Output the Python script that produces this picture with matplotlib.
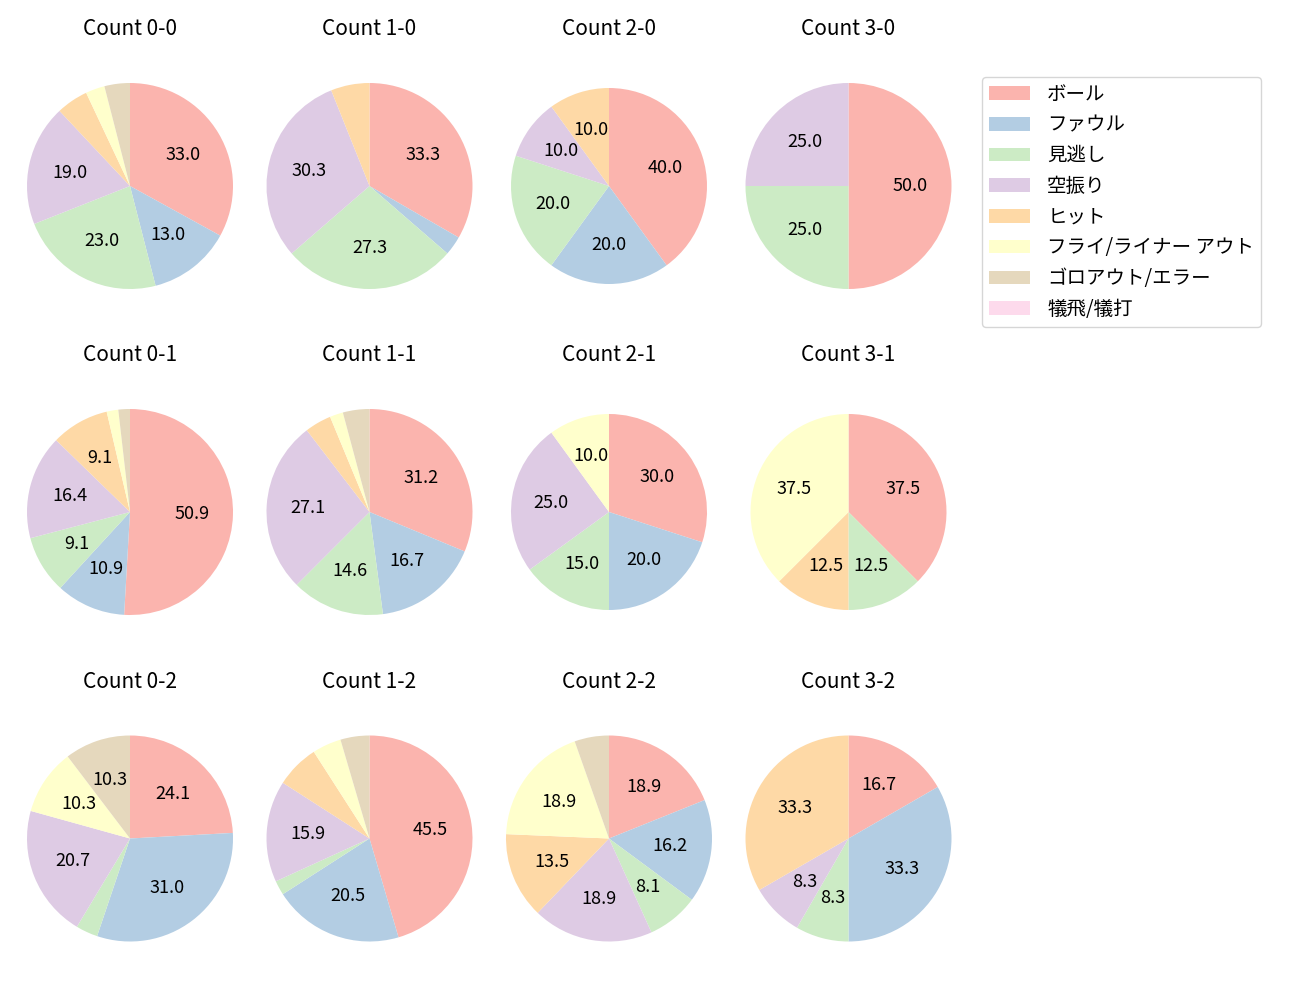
import matplotlib
matplotlib.use("Agg")
import matplotlib.pyplot as plt
from matplotlib.patches import Patch

plt.rcParams['font.family'] = ['Noto Sans CJK JP', 'DejaVu Sans']

categories = ['ボール', 'ファウル', '見逃し', '空振り', 'ヒット',
              'フライ/ライナー アウト', 'ゴロアウト/エラー', '犠飛/犠打']
colors = ['#fbb4ae', '#b3cde3', '#ccebc5', '#decbe4', '#fed9a6',
          '#ffffcc', '#e5d8bd', '#fddaec']

titles = ['Count 0-0', 'Count 1-0', 'Count 2-0', 'Count 3-0',
          'Count 0-1', 'Count 1-1', 'Count 2-1', 'Count 3-1',
          'Count 0-2', 'Count 1-2', 'Count 2-2', 'Count 3-2']

c00 = [33, 13, 23, 19, 5, 3, 4, 0]
c10 = [11, 1, 9, 10, 2, 0, 0, 0]
c20 = [4, 2, 2, 1, 1, 0, 0, 0]
c30 = [2, 0, 1, 1, 0, 0, 0, 0]
c01 = [28, 6, 5, 9, 5, 1, 1, 0]
c11 = [15, 8, 7, 13, 2, 1, 2, 0]
c21 = [6, 4, 3, 5, 0, 2, 0, 0]
c31 = [3, 0, 1, 0, 1, 3, 0, 0]
c02 = [7, 9, 1, 6, 0, 3, 3, 0]
c12 = [20, 9, 1, 7, 3, 2, 2, 0]
c22 = [7, 6, 3, 7, 5, 7, 2, 0]
c32 = [2, 4, 1, 1, 4, 0, 0, 0]
counts = [c00, c10, c20, c30, c01, c11, c21, c31, c02, c12, c22, c32]

W, H = 1300, 1000
fig = plt.figure(figsize=(13, 10), dpi=100)

col_x = [130, 369.5, 609, 848.5]
row_y = [186, 512, 838.5]
radii = [1.03, 1.03, 0.98, 1.03,
         1.03, 1.03, 0.98, 0.98,
         1.03, 1.03, 1.03, 1.03]
title_dy = 157
half = 120  # px, axes half size ; 100 px per unit with limits +-1.2

for i, (vals, title) in enumerate(zip(counts, titles)):
    r, c = divmod(i, 4)
    cx, cy = col_x[c], row_y[r]
    ax = fig.add_axes([(cx - half) / W, 1 - (cy + half) / H, 2 * half / W, 2 * half / H])
    ax.pie(vals, colors=colors, startangle=90, counterclock=False,
           radius=radii[i], pctdistance=0.6,
           autopct=lambda p: f'{p:.1f}' if p >= 7 else '',
           textprops={'fontsize': 13})
    ax.set_xlim(-1.2, 1.2)
    ax.set_ylim(-1.2, 1.2)
    ax.set_aspect('equal')
    ax.axis('off')
    fig.text(cx / W, 1 - (cy - title_dy) / H, title, ha='center', va='center', fontsize=15)

handles = [Patch(facecolor=col, edgecolor='none') for col in colors]
fig.legend(handles, categories, loc='upper left',
           bbox_to_anchor=(982 / W, 1 - 77 / H), fontsize=14,
           handlelength=2.1, handleheight=0.7, handletextpad=0.9,
           labelspacing=0.50, borderaxespad=0, borderpad=0.35,
           frameon=True)

fig.savefig('out.png', dpi=100)
